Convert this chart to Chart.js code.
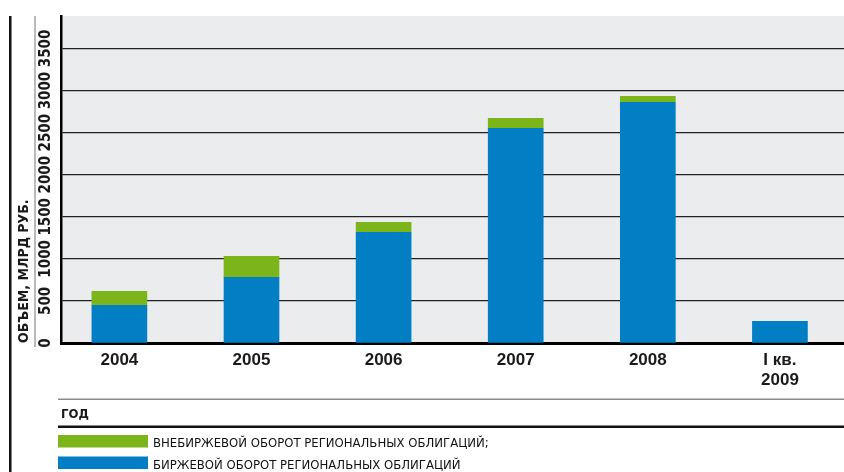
<!DOCTYPE html>
<html lang="ru">
<head>
<meta charset="utf-8">
<title>Оборот региональных облигаций</title>
<script src="https://cdn.jsdelivr.net/npm/chart.js@4.4.1/dist/chart.umd.min.js"></script>
<style>
  html, body { margin: 0; padding: 0; background: #fff; overflow: hidden; }
  canvas { display: block; }
</style>
</head>
<body>
<canvas id="bondsChart" width="844" height="472"></canvas>
<script>
// years on the x axis (last one is a quarter, split over two lines)
const years = ['2004', '2005', '2006', '2007', '2008', ['I кв.', '2009']];
// exchange turnover, bln rub (lower part of each bar)
const exchangeTurnover = [449, 781, 1316, 2552, 2861, 258];
// OTC turnover, bln rub (stacked on top)
const otcTurnover = [166, 249, 118, 119, 71, 0];
const yTicks = [0, 500, 1000, 1500, 2000, 2500, 3000, 3500];

const BLUE = '#017ec4';
const GREEN = '#7bb51a';
const INK = '#1a1a1a';

function points(values) {
  return values.map((v, i) => ({ x: i, y: v }));
}

// grey plot background, side rules and the legend block under the axis
const framePlugin = {
  id: 'frame',
  beforeDraw(chart) {
    const { ctx, chartArea: a } = chart;
    ctx.save();
    ctx.fillStyle = '#ebecee';
    ctx.fillRect(a.left, a.top, a.right - a.left, a.bottom - a.top);
    ctx.restore();
  },
  afterDraw(chart) {
    const { ctx, chartArea: a } = chart;
    ctx.save();
    ctx.fillStyle = '#111';
    ctx.fillRect(9, a.top, 2.5, chart.height - a.top);
    ctx.fillStyle = '#777';
    ctx.fillRect(34.5, a.top, 1, a.bottom + 4 - a.top);

    ctx.fillStyle = '#8a8a8a';
    ctx.fillRect(58, 398.5, chart.width - 58, 1.5);
    ctx.fillStyle = '#111';
    ctx.fillRect(58, 425.5, chart.width - 58, 2.5);

    // legend: upper segment first
    ctx.font = '13px "DejaVu Sans Condensed"';
    ctx.textBaseline = 'alphabetic';
    chart.data.datasets.slice().reverse().forEach((ds, i) => {
      const y = 435 + i * 21.5;
      ctx.fillStyle = ds.backgroundColor;
      ctx.fillRect(58, y, 90, 12.5);
      ctx.fillStyle = '#111';
      ctx.fillText(ds.label, 153, y + 12);
    });
    ctx.restore();
  }
};

new Chart(document.getElementById('bondsChart'), {
  type: 'bar',
  data: {
    datasets: [
      {
        label: 'БИРЖЕВОЙ ОБОРОТ РЕГИОНАЛЬНЫХ ОБЛИГАЦИЙ',
        data: points(exchangeTurnover),
        backgroundColor: BLUE
      },
      {
        label: 'ВНЕБИРЖЕВОЙ ОБОРОТ РЕГИОНАЛЬНЫХ ОБЛИГАЦИЙ;',
        data: points(otcTurnover),
        backgroundColor: GREEN
      }
    ]
  },
  options: {
    responsive: false,
    animation: false,
    layout: { padding: { top: 16, right: 0, bottom: 0, left: 0 } },
    plugins: { legend: { display: false }, tooltip: { enabled: false } },
    datasets: { bar: { barThickness: 55 } },
    scales: {
      x: {
        type: 'linear',
        stacked: true,
        min: -0.442,
        max: 5.485,
        offset: false,
        grid: { display: false, drawTicks: false },
        border: { display: true, color: '#000', width: 3 },
        ticks: {
          stepSize: 1,
          includeBounds: false,
          autoSkip: false,
          maxRotation: 0,
          padding: 7,
          color: INK,
          font: { family: 'Liberation Sans', weight: 'bold', size: 17, lineHeight: '20px' },
          callback: v => years[v]
        },
        title: {
          display: true,
          text: 'ГОД',
          align: 'start',
          color: INK,
          font: { family: 'DejaVu Sans Condensed', weight: 'bold', size: 13 },
          padding: { top: 0, bottom: 50 }
        },
        afterFit(scale) { scale.height = 129; }
      },
      y: {
        stacked: true,
        min: 0,
        max: 3886,
        afterBuildTicks(scale) { scale.ticks = yTicks.map(v => ({ value: v })); },
        grid: { color: '#222', lineWidth: 1.3, drawTicks: false },
        border: { display: true, color: '#000', width: 2.5 },
        ticks: {
          autoSkip: false,
          minRotation: 90,
          maxRotation: 90,
          crossAlign: 'center',
          padding: -4,
          color: INK,
          font: { family: 'DejaVu Sans Condensed', weight: 'bold', size: 15 },
          callback: v => String(v)
        },
        title: {
          display: true,
          text: 'ОБЪЕМ, МЛРД РУБ.',
          align: 'start',
          color: INK,
          font: { family: 'DejaVu Sans Condensed', weight: 'bold', size: 14 },
          padding: { top: 16, bottom: 0 }
        },
        afterFit(scale) { scale.width = 61; }
      }
    }
  },
  plugins: [framePlugin]
});
</script>
</body>
</html>
